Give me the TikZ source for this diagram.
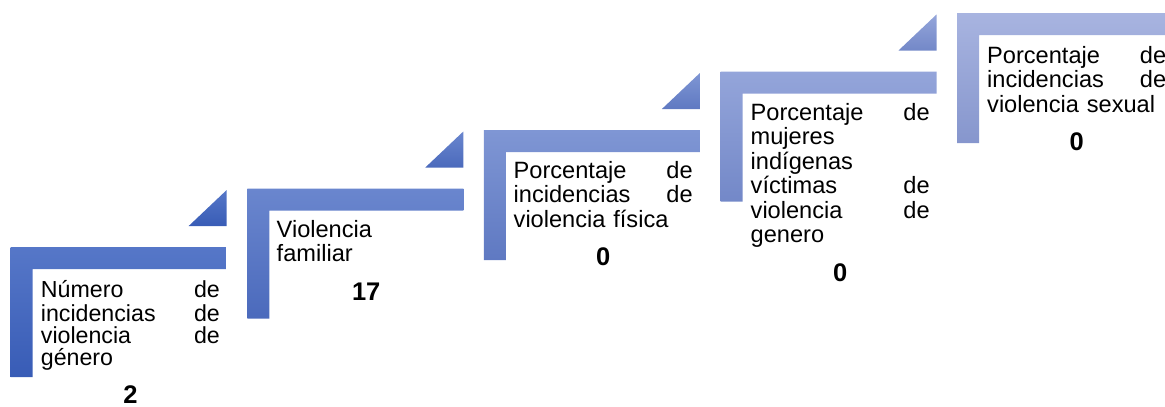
\documentclass[tikz,border=0pt]{standalone}
\usepackage{fontspec}
\setmainfont{Liberation Sans}
\usetikzlibrary{positioning}
\definecolor{stepatop}{RGB}{86,119,200}
\definecolor{stepabot}{RGB}{56,92,182}
\definecolor{stepbtop}{RGB}{106,134,206}
\definecolor{stepbbot}{RGB}{75,106,188}
\definecolor{stepctop}{RGB}{127,150,212}
\definecolor{stepcbot}{RGB}{95,121,194}
\definecolor{stepdtop}{RGB}{148,165,218}
\definecolor{stepdbot}{RGB}{115,136,200}
\definecolor{stepetop}{RGB}{168,180,224}
\definecolor{stepebot}{RGB}{134,150,205}
\begin{document}
\begin{tikzpicture}[x=1pt,y=-1pt,
	steptext/.style={anchor=north west,inner sep=0pt,text width=179pt,align=left,font=\fontsize{23.6}{24.5}\selectfont},
	stepnum/.style={inner sep=0pt,font=\fontsize{25.5}{30}\selectfont\bfseries}]
	\useasboundingbox (0,0) rectangle (1165,407);
	% peldanos
	\shade[top color=stepatop,bottom color=stepabot] (10.7,247) -- (226.7,247) -- (226.7,269) -- (32.7,269) -- (32.7,377) -- (10.7,377) -- cycle;
	\shade[top color=stepatop,bottom color=stepabot] (188.7,226) -- (226.7,226) -- (226.7,190) -- cycle;
	\shade[top color=stepbtop,bottom color=stepbbot] (247.3,188.5) -- (463.3,188.5) -- (463.3,210.5) -- (269.3,210.5) -- (269.3,318.5) -- (247.3,318.5) -- cycle;
	\shade[top color=stepbtop,bottom color=stepbbot] (425.3,167.5) -- (463.3,167.5) -- (463.3,131.5) -- cycle;
	\shade[top color=stepctop,bottom color=stepcbot] (483.9,130) -- (699.9,130) -- (699.9,152) -- (505.9,152) -- (505.9,260) -- (483.9,260) -- cycle;
	\shade[top color=stepctop,bottom color=stepcbot] (661.9,109) -- (699.9,109) -- (699.9,73) -- cycle;
	\shade[top color=stepdtop,bottom color=stepdbot] (720.5,71.5) -- (936.5,71.5) -- (936.5,93.5) -- (742.5,93.5) -- (742.5,201.5) -- (720.5,201.5) -- cycle;
	\shade[top color=stepdtop,bottom color=stepdbot] (898.5,50.5) -- (936.5,50.5) -- (936.5,14.5) -- cycle;
	\shade[top color=stepetop,bottom color=stepebot] (957.1,13) -- (1173.1,13) -- (1173.1,35) -- (979.1,35) -- (979.1,143) -- (957.1,143) -- cycle;
	% textos
	\node[steptext,font=\fontsize{23.2}{22}\selectfont] (genero) at (40.7,280) {\strut N\'umero\hfill de\\ incidencias\hfill de\\ violencia\hfill de\\ g\'enero\strut};
	\node[steptext] (familiar) at (276.5,220) {\strut Violencia\\ familiar\strut};
	\node[steptext] (fisica) at (513.5,161) {\strut Porcentaje\hfill de\\ incidencias\hfill de\\ violencia f\'isica\strut};
	\node[steptext] (indigenas) at (750.5,103) {\strut Porcentaje\hfill de\\ mujeres\\ ind\'igenas\\ v\'ictimas\hfill de\\ violencia\hfill de\\ genero\strut};
	\node[steptext] (sexual) at (987,46) {\strut Porcentaje\hfill de\\ incidencias\hfill de\\ violencia sexual\strut};
	% valores
	\node[stepnum,below=13pt of genero] (ngenero) {2};
	\node[stepnum,below=13pt of familiar] (nfamiliar) {17};
	\node[stepnum,below=13pt of fisica] (nfisica) {0};
	\node[stepnum,below=13pt of indigenas] (nindigenas) {0};
	\node[stepnum,below=13pt of sexual] (nsexual) {0};
\end{tikzpicture}
\end{document}
